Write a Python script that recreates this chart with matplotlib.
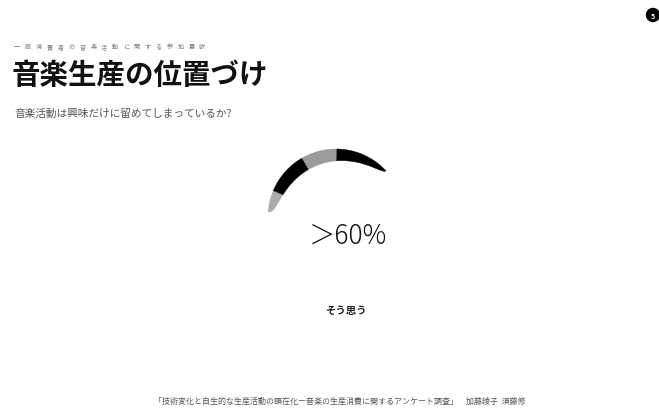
import matplotlib.pyplot as plt
import numpy as np

plt.rcParams["font.family"] = ["Noto Sans CJK JP", "DejaVu Sans"]

# gauge segments, left tail -> right tip (share of the arc, %)
segment_labels = ["tail", "part1", "part2", "part3"]
segment_shares = [14, 28, 23, 35]
segment_colors = ["#ababab", "#000000", "#9b9b9b", "#000000"]

kicker = "一般消費者の音楽活動に関する参加意欲"
title = "音楽生産の位置づけ"
subtitle = "音楽活動は興味だけに留めてしまっているか?"
big_value = "＞60%"
answer = "そう思う"
source = "「技術変化と自生的な生産活動の顕在化ー音楽の生産消費に関するアンケート調査」　加藤綾子  須藤修"
page_no = "5"

W, H = 659, 410
fig = plt.figure(figsize=(W / 100, H / 100), dpi=100)
ax = fig.add_axes([0, 0, 1, 1])
ax.set_xlim(0, W)
ax.set_ylim(H, 0)
ax.axis("off")

# crescent gauge
cx, cy, R = 336, 218, 68
theta_left, theta_right = np.radians(175.8), np.radians(42.6)
tmax = 12.5


def thickness(s):
    return tmax * (s ** 0.4) * ((1 - s) ** 0.55) / 0.5


bounds = np.concatenate([[0], np.cumsum(segment_shares)]) / sum(segment_shares)
for i, col in enumerate(segment_colors):
    s = np.linspace(bounds[i], bounds[i + 1], 60)
    th = theta_left + s * (theta_right - theta_left)
    ro = np.full_like(s, R)
    ri = R - thickness(s)
    xo, yo = cx + ro * np.cos(th), cy - ro * np.sin(th)
    xi, yi = cx + ri * np.cos(th), cy - ri * np.sin(th)
    xs = np.concatenate([xo, xi[::-1]])
    ys = np.concatenate([yo, yi[::-1]])
    ax.fill(xs, ys, color=col, lw=0.3, ec=col)

# texts
for i, ch in enumerate(kicker):
    ax.text(14 + i * 10.9, 47, ch, fontsize=4.4, color="#777777", ha="left", va="center")
ax.text(12, 76, title, fontsize=20.5, fontweight="bold", color="#111111", ha="left", va="center")
ax.text(14, 114, subtitle, fontsize=7.7, color="#555555", ha="left", va="center")
ax.text(348, 236, big_value, fontsize=19, fontweight="light", color="#111111", ha="center", va="center")
ax.text(346, 311, answer, fontsize=7.5, fontweight="bold", color="#222222", ha="center", va="center")
ax.text(340, 401, source, fontsize=5.75, color="#555555", ha="center", va="center")

ax.add_patch(plt.Circle((653, 16), 6.5, color="black"))
ax.text(653, 16.5, page_no, fontsize=5, color="white", fontweight="bold", ha="center", va="center")

fig.savefig("out.png", dpi=100)
